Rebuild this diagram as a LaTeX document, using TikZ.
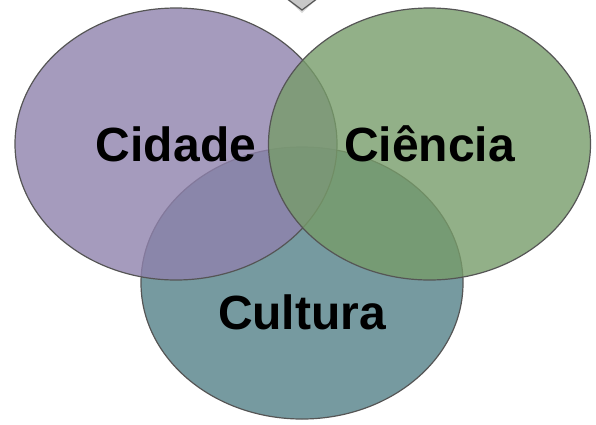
\documentclass[tikz,border=0pt]{standalone}
\usepackage{fontspec}
\setmainfont{Liberation Sans}
\usepackage{xcolor}
\usepackage{tikz}
\usetikzlibrary{shapes.geometric,positioning}
\definecolor{cidadecol}{RGB}{143,130,173}
\definecolor{cienciacol}{RGB}{119,156,106}
\definecolor{culturacol}{RGB}{118,154,160}
\definecolor{edgecol}{RGB}{85,85,85}
\tikzset{set/.style={ellipse,draw=edgecol,line width=1.2pt,fill opacity=0.8,minimum width=322pt,minimum height=272pt,inner sep=0pt},
  lbl/.style={font=\bfseries\fontsize{48}{56}\selectfont,text=black,inner sep=0pt}}

\begin{document}
\begin{tikzpicture}[x=1pt,y=-1pt]
        \useasboundingbox (0,0) rectangle (596,424);
        % arrow tip at the top
        \fill[black,opacity=0.15] (286,-2) -- (302,13) -- (318,-2) -- cycle;
        \draw[edgecol,fill={rgb,255:red,200;green,200;blue,200},line width=1.2pt] (286,-2) -- (302,10) -- (318,-2);

        \node[set,fill=culturacol,fill opacity=1] (cultura) at (302,283) {};
        \node[set,fill=cidadecol] (cidade) at (176,144) {};
        \node[set,fill=cienciacol] (ciencia) at (429.5,144) {};

        \node[lbl] (lcidade) at (cidade.center) {Cidade};
        \node[lbl] (lciencia) at (ciencia.center) {Ciência};
        \node[lbl] (lcultura) at ([yshift=-29pt]cultura.center) {Cultura};
    \end{tikzpicture}
\end{document}
